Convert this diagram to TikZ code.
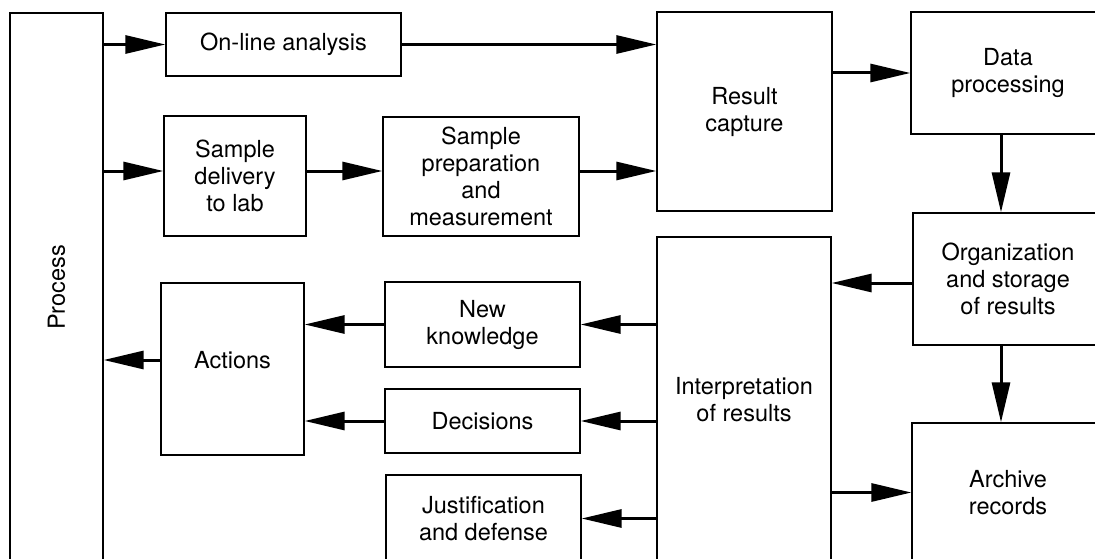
\documentclass[tikz,border=0pt]{standalone}
\usepackage{fontspec}
\usepackage{graphicx}
\setmainfont{TeX Gyre Heros}
\usetikzlibrary{arrows.meta}
\begin{document}
\begin{tikzpicture}[x=1pt,y=-1pt,
  box/.style={draw, line width=1.3pt, rectangle, inner sep=0pt, align=center,
    font=\fontsize{23.5}{27}\selectfont},
  flow/.style={line width=3pt, -{Triangle[length=40pt,width=18pt]}}
]
\clip (0,0) rectangle (1095,559);
\fill[white] (0,0) rectangle (1095,559);

% blocks
\node[box, minimum width=93pt,  minimum height=549pt] (proc)     at (56.5,287.5) {\rotatebox{90}{Process}};
\node[box, minimum width=235pt, minimum height=63pt]  (online)   at (283.5,44.5) {On-line analysis};
\node[box, minimum width=142pt, minimum height=120pt] (deliv)    at (235,176)    {Sample\\delivery\\to lab};
\node[box, minimum width=196pt, minimum height=119pt] (prep)     at (481,176.5)  {Sample\\preparation\\and\\measurement};
\node[box, minimum width=175pt, minimum height=199pt] (capture)  at (744.5,111.5){Result\\capture};
\node[box, minimum width=194pt, minimum height=122pt] (dataproc) at (1008,73)    {Data\\processing};
\node[box, minimum width=190pt, minimum height=132pt] (org)      at (1008,279)   {Organization\\and storage\\of results};
\node[box, minimum width=174pt, minimum height=325pt] (interp)   at (744,399.5)  {Interpretation\\of results};
\node[box, minimum width=192pt, minimum height=139pt] (archive)  at (1008,492.5) {Archive\\records};
\node[box, minimum width=143pt, minimum height=172pt] (actions)  at (232.5,369)  {\raisebox{18pt}{Actions}};
\node[box, minimum width=195pt, minimum height=85pt]  (know)     at (482.5,324.5){New\\knowledge};
\node[box, minimum width=195pt, minimum height=64pt]  (dec)      at (482.5,421)  {Decisions};
\node[box, minimum width=195pt, minimum height=87pt]  (just)     at (483.5,518.5){Justification\\and defense};

% reference lines for connectors
\coordinate (rb) at (0,171);
\coordinate (rc) at (0,360);
\coordinate (rd) at (0,283);
\coordinate (ve) at (1001,0);

% connectors
\draw[flow] (proc.east |- online.west) -- (online.west);
\draw[flow] (online.east) -- (capture.west |- online.east);
\draw[flow] (proc.east |- rb) -- (deliv.west |- rb);
\draw[flow] (deliv.east |- rb) -- (prep.west |- rb);
\draw[flow] (prep.east |- rb) -- (capture.west |- rb);
\draw[flow] (capture.east |- dataproc.west) -- (dataproc.west);
\draw[flow] (dataproc.south -| ve) -- (org.north -| ve);
\draw[flow] (org.west |- rd) -- (interp.east |- rd);
\draw[flow] (org.south -| ve) -- (archive.north -| ve);
\draw[flow] (interp.east |- archive.west) -- (archive.west);
\draw[flow] (interp.west |- know.east) -- (know.east);
\draw[flow] (interp.west |- dec.east) -- (dec.east);
\draw[flow] (interp.west |- just.east) -- (just.east);
\draw[flow] (know.west) -- (actions.east |- know.west);
\draw[flow] (dec.west) -- (actions.east |- dec.west);
\draw[flow] (actions.west |- rc) -- (proc.east |- rc);
\end{tikzpicture}
\end{document}
